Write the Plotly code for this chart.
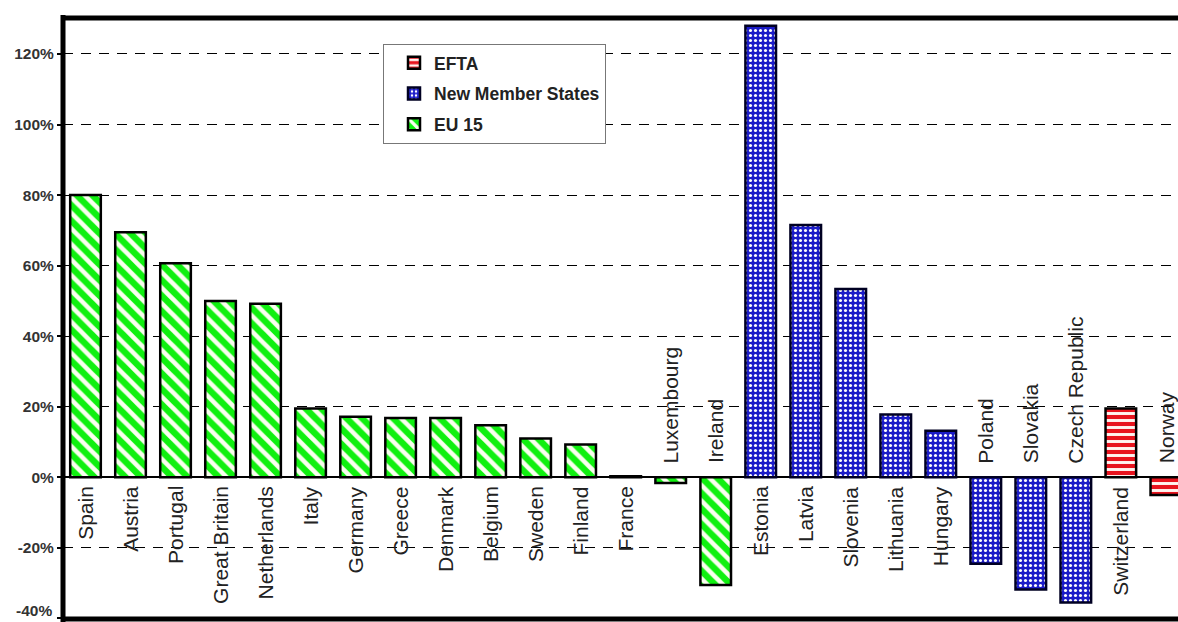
import plotly.graph_objects as go

eu15_countries = ["Spain", "Austria", "Portugal", "Great Britain", "Netherlands", "Italy",
                  "Germany", "Greece", "Denmark", "Belgium", "Sweden", "Finland",
                  "France", "Luxembourg", "Ireland"]
eu15_values = [80.0, 69.5, 60.7, 50.0, 49.2, 19.5, 17.2, 16.8, 16.8, 14.8, 11.0, 9.3, 0.3, -1.6, -30.5]

nms_countries = ["Estonia", "Latvia", "Slovenia", "Lithuania", "Hungary", "Poland",
                 "Slovakia", "Czech Republic"]
nms_values = [128.0, 71.5, 53.4, 17.8, 13.2, -24.5, -31.8, -35.5]

efta_countries = ["Switzerland", "Norway"]
efta_values = [19.5, -5.0]

y_ticks = [-40, -20, 0, 20, 40, 60, 80, 100, 120]
y_tick_labels = ["-40%", "-20%", "0%", "20%", "40%", "60%", "80%", "100%", "120%"]

all_countries = eu15_countries + nms_countries + efta_countries
all_values = eu15_values + nms_values + efta_values

FONT = "Liberation Sans, Arial, sans-serif"
BAR_W = 0.68
GREEN = "#10f010"
BLUE = "#1c1cc8"
RED = "#e8141e"

fig = go.Figure()
fig.add_trace(go.Bar(
    x=efta_countries, y=efta_values, name="EFTA", width=BAR_W,
    legendgroup="c",
    marker=dict(color=RED, line=dict(color="black", width=2.5),
                pattern=dict(shape="-", fgcolor="#fff4f0", bgcolor=RED,
                             size=7, solidity=0.42, fillmode="replace")),
))
fig.add_trace(go.Bar(
    x=nms_countries, y=nms_values, name="New Member States", width=BAR_W,
    legendgroup="b",
    marker=dict(color=BLUE, line=dict(color="#000022", width=2.5),
                pattern=dict(shape=".", fgcolor="white", bgcolor=BLUE,
                             size=5, solidity=0.3, fillmode="replace")),
))
fig.add_trace(go.Bar(
    x=eu15_countries, y=eu15_values, name="EU 15", width=BAR_W,
    legendgroup="a",
    marker=dict(color=GREEN, line=dict(color="black", width=2.5),
                pattern=dict(shape="\\", fgcolor="#fbfff0", bgcolor=GREEN,
                             size=11, solidity=0.42, fillmode="replace")),
))

annotations = []
for c, v in zip(all_countries, all_values):
    pos = v >= 0
    annotations.append(dict(
        x=c, y=0, xref="x", yref="y", text=c, showarrow=False, textangle=-90,
        yanchor="top" if pos else "bottom", xanchor="center",
        yshift=-7 if pos else 12,
        font=dict(family=FONT, size=21, color="#222222"),
    ))
# bottom tick label (plotly hides it at the edge of the plot area)
annotations.append(dict(
    x=0, y=y_ticks[0], xref="paper", yref="y", text=y_tick_labels[0], showarrow=False,
    xanchor="right", yanchor="bottom", xshift=-9, yshift=-3,
    font=dict(family=FONT, size=15.5, color="#333333", weight="bold"),
))

shapes = [
    dict(type="line", xref="paper", yref="paper", x0=0, x1=1, y0=1, y1=1,
         line=dict(color="black", width=5)),
    dict(type="line", xref="paper", yref="paper", x0=0, x1=1, y0=0, y1=0,
         line=dict(color="black", width=5)),
    dict(type="line", xref="paper", yref="paper", x0=0, x1=0, y0=-0.01, y1=1.005,
         line=dict(color="black", width=5)),
]

fig.update_layout(
    width=1178, height=622,
    margin=dict(l=63, r=0, t=18, b=3),
    paper_bgcolor="white", plot_bgcolor="white",
    barmode="overlay",
    showlegend=True,
    legend=dict(
        x=0.287, y=0.957, xanchor="left", yanchor="top",
        bgcolor="white", bordercolor="#777777", borderwidth=1,
        traceorder="grouped", tracegroupgap=5, indentation=10,
        font=dict(family=FONT, size=17.5, color="#222222", weight="bold"),
    ),
    annotations=annotations,
    shapes=shapes,
    xaxis=dict(
        type="category", categoryorder="array", categoryarray=all_countries,
        range=[-0.5, 24.27], showticklabels=False, showgrid=False,
        showline=False, zeroline=False, ticks="",
    ),
    yaxis=dict(
        range=[-40.15, 130.2], tickvals=y_ticks, ticktext=y_tick_labels,
        showgrid=True, gridcolor="black", gridwidth=1.2, griddash="10px,8px",
        zeroline=True, zerolinecolor="black", zerolinewidth=1.5,
        showline=False, ticks="outside", ticklen=5, tickcolor="black", tickwidth=1.5,
        tickfont=dict(family=FONT, size=15.5, color="#333333", weight="bold"),
    ),
)

fig.write_html("out.html")
